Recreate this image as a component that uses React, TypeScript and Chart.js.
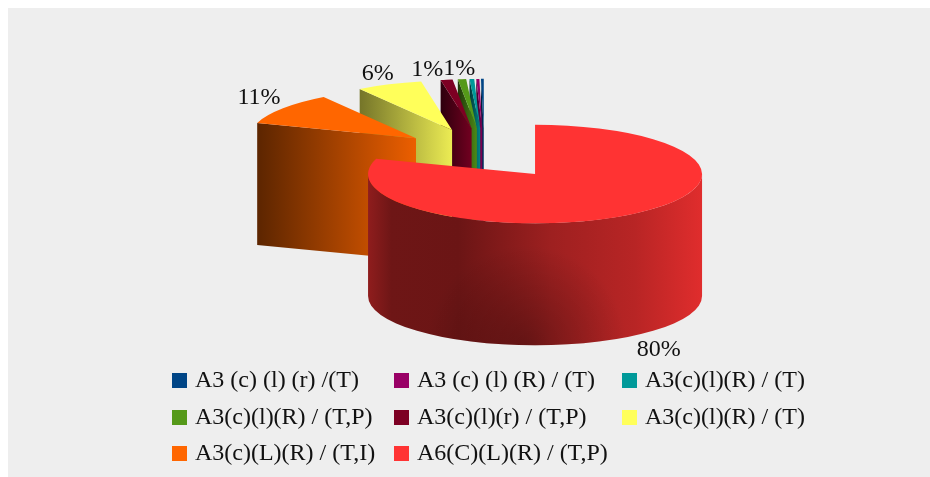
import React, { useEffect, useRef } from "react";
import { Chart, registerables } from "chart.js";

Chart.register(...registerables);

const categories = [
  "A3 (c) (l) (r) /(T)",
  "A3 (c) (l) (R) / (T)",
  "A3(c)(l)(R) / (T)",
  "A3(c)(l)(R) / (T,P)",
  "A3(c)(l)(r) / (T,P)",
  "A3(c)(l)(R) / (T)",
  "A3(c)(L)(R) / (T,I)",
  "A6(C)(L)(R) / (T,P)",
];
const shares = [0.27, 0.3, 0.45, 0.8, 1.15, 6.36, 10.67, 80];
const colors = ["#004586", "#990066", "#009999", "#559919", "#7d0023", "#ffff5a", "#ff6600", "#ff3333"];

const FONT = '"Liberation Serif", "Times New Roman", serif';
const SQUASH = 0.295;
const DEPTH = 122;
const EXPLODE = 86;

function shade(hex: string, k: number) {
  const n = parseInt(hex.slice(1), 16);
  const c = [(n >> 16) & 255, (n >> 8) & 255, n & 255].map((v) => Math.round(v * k));
  return `rgb(${c[0]},${c[1]},${c[2]})`;
}

// Apex of an exploded slice on the tilted pie plane.
function apex(el: any) {
  const mid = (el.startAngle + el.endAngle) / 2;
  return {
    mid,
    x: el.x + Math.cos(mid) * EXPLODE,
    y: el.y + Math.sin(mid) * EXPLODE * SQUASH,
  };
}

function radialFace(ctx: CanvasRenderingContext2D, a: { x: number; y: number }, r: number, angle: number, color: string) {
  const rx = a.x + Math.cos(angle) * r;
  const ry = a.y + Math.sin(angle) * r * SQUASH;
  const g = ctx.createLinearGradient(Math.min(rx, a.x), 0, Math.max(rx, a.x) + 1, 0);
  // Light colours keep more of their body in shade than saturated ones.
  g.addColorStop(0, shade(color, color === "#ffff5a" ? 0.46 : 0.36));
  g.addColorStop(1, shade(color, 0.93));
  ctx.fillStyle = g;
  ctx.beginPath();
  ctx.moveTo(a.x, a.y);
  ctx.lineTo(rx, ry);
  ctx.lineTo(rx, ry + DEPTH);
  ctx.lineTo(a.x, a.y + DEPTH);
  ctx.closePath();
  ctx.fill();
}

function outerWall(ctx: CanvasRenderingContext2D, a: { x: number; y: number }, r: number, s: number, e: number, color: string) {
  const from = Math.max(s, 0);
  const to = Math.min(e, Math.PI);
  if (to <= from) return;
  const trace = () => {
    ctx.beginPath();
    ctx.ellipse(a.x, a.y, r, r * SQUASH, 0, from, to);
    ctx.ellipse(a.x, a.y + DEPTH, r, r * SQUASH, 0, to, from, true);
    ctx.closePath();
  };
  const g = ctx.createLinearGradient(a.x - r, 0, a.x + r, 0);
  g.addColorStop(0, shade(color, 0.56));
  g.addColorStop(0.07, shade(color, 0.43));
  g.addColorStop(0.27, shade(color, 0.42));
  g.addColorStop(0.55, shade(color, 0.62));
  g.addColorStop(0.8, shade(color, 0.72));
  g.addColorStop(1, shade(color, 0.88));
  ctx.fillStyle = g;
  trace();
  ctx.fill();
  // Soft shadow pooling along the lower front edge of the slab
  const bottom = a.y + DEPTH + r * SQUASH;
  const shadow = ctx.createRadialGradient(a.x - r * 0.05, bottom, 0, a.x - r * 0.05, bottom, r * 0.6);
  shadow.addColorStop(0, "rgba(0,0,0,0.3)");
  shadow.addColorStop(1, "rgba(0,0,0,0)");
  ctx.fillStyle = shadow;
  trace();
  ctx.fill();
}

// Draws the library's arcs on a tilted plane, extruded into slabs.
const slabPlugin = {
  id: "slabPie",
  beforeDatasetDraw(chart: any) {
    const ctx: CanvasRenderingContext2D = chart.ctx;
    const arcs = [...chart.getDatasetMeta(0).data].reverse();
    const fills = chart.data.datasets[0].backgroundColor as string[];
    arcs.forEach((el: any, i: number) => {
      const color = fills[fills.length - 1 - i];
      const a = apex(el);
      const r = el.outerRadius;
      if (Math.cos(el.startAngle) < 0) radialFace(ctx, a, r, el.startAngle, color);
      if (Math.cos(el.endAngle) > 0) radialFace(ctx, a, r, el.endAngle, color);
      outerWall(ctx, a, r, el.startAngle, el.endAngle, color);
      ctx.save();
      ctx.translate(a.x, a.y);
      ctx.scale(1, SQUASH);
      ctx.translate(-el.x, -el.y);
      el.draw(ctx);
      ctx.restore();
    });
    return false;
  },
  afterDraw(chart: any) {
    const ctx: CanvasRenderingContext2D = chart.ctx;
    ctx.save();
    ctx.fillStyle = "#111";
    ctx.font = `24px ${FONT}`;
    ctx.textAlign = "center";
    ctx.textBaseline = "middle";
    const arcs = chart.getDatasetMeta(0).data;
    // Walk the slices right to left so narrow neighbours push their labels apart.
    let leftEdge = Infinity;
    for (let i = arcs.length - 1; i >= 0; i--) {
      const el: any = arcs[i];
      const rounded = Math.round(chart.data.datasets[0].data[i]);
      if (rounded < 1) continue;
      const a = apex(el);
      const front = Math.sin(a.mid) > 0;
      const text = `${rounded}%`;
      const half = ctx.measureText(text).width / 2;
      let x = a.x + Math.cos(a.mid) * el.outerRadius * (front ? 1.26 : 1.18);
      const y = a.y + Math.sin(a.mid) * el.outerRadius * SQUASH + (front ? DEPTH + 14 : -10.5);
      if (!front) {
        x = Math.min(x, leftEdge - half);
        leftEdge = x - half;
      }
      ctx.fillText(text, x, y);
    }
    // Legend, three columns wide
    const cols = [172, 394, 622];
    const rows = [381, 418, 454];
    ctx.textAlign = "left";
    categories.forEach((name, i) => {
      const x = cols[i % 3];
      const y = rows[Math.floor(i / 3)];
      ctx.fillStyle = colors[i];
      ctx.fillRect(x, y - 8, 15, 15);
      ctx.fillStyle = "#111";
      ctx.fillText(name, x + 23, y);
    });
    ctx.restore();
  },
};

export default function App() {
  const ref = useRef<HTMLCanvasElement>(null);
  useEffect(() => {
    document.body.style.margin = "0";
    const chart = new Chart(ref.current!, {
      type: "pie",
      data: {
        labels: [...categories].reverse(),
        datasets: [
          {
            data: [...shares].reverse(),
            backgroundColor: [...colors].reverse(),
            borderWidth: 0,
          },
        ],
      },
      options: {
        responsive: false,
        animation: false,
        radius: 167,
        layout: { padding: { left: 39, right: 0, top: 0, bottom: 170 } },
        plugins: { legend: { display: false }, tooltip: { enabled: false } },
      },
      plugins: [slabPlugin],
    } as any);
    return () => chart.destroy();
  }, []);
  return (
    <div style={{ position: "relative", width: 930, height: 477, overflow: "hidden", background: "#fff" }}>
      <div style={{ position: "absolute", left: 8, top: 8, right: 0, bottom: 0, background: "#eeeeee" }} />
      <canvas ref={ref} width={930} height={477} style={{ position: "absolute", left: 0, top: 0 }} />
    </div>
  );
}
